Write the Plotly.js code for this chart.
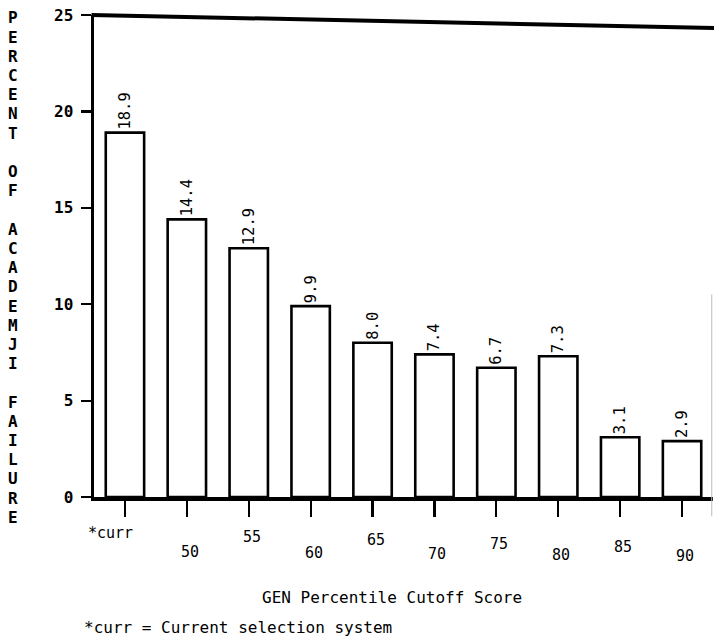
<!DOCTYPE html>
<html>
<head>
<meta charset="utf-8">
<script src="https://cdn.plot.ly/plotly-3.0.1.min.js"></script>
<style>html,body{margin:0;padding:0;background:#fff;}#chart{width:714px;height:643px;}</style>
</head>
<body>
<div id="chart"></div>
<script>
const categories = ['*curr', '50', '55', '60', '65', '70', '75', '80', '85', '90'];
const failurePct = [18.9, 14.4, 12.9, 9.9, 8.0, 7.4, 6.7, 7.3, 3.1, 2.9];
const valueLabels = ['18.9', '14.4', '12.9', '9.9', '8.0', '7.4', '6.7', '7.3', '3.1', '2.9'];
const yTickVals = [0, 5, 10, 15, 20, 25];
const yTitleWords = ['PERCENT', 'OF', 'ACADEMJI', 'FAILURE'];
const xTitle = 'GEN Percentile Cutoff Score';
const footnote = '*curr = Current selection system';

const FONT = 'DejaVu Sans Mono, Liberation Mono, monospace';
const L = 94, W = 619, T = 15, H = 482;

const trace = {
  type: 'bar',
  x: categories,
  y: failurePct,
  text: valueLabels,
  textposition: 'outside',
  textangle: -90,
  cliponaxis: false,
  textfont: {family: FONT, size: 15.5, color: '#000'},
  marker: {color: '#fff', line: {color: '#000', width: 2.6}},
  hoverinfo: 'skip'
};

const annotations = [];
// staggered x tick labels
categories.forEach((c, i) => {
  const lower = i % 2 === 1;
  annotations.push({
    x: i, xref: 'x', y: 0, yref: 'y',
    yanchor: 'middle', xanchor: 'center',
    yshift: lower ? -(54 + i * 0.6) : -(36 + i * 1.8),
    xshift: i === 0 ? -14 : 3,
    text: c, showarrow: false,
    font: {family: FONT, size: 15, color: '#000'}
  });
});
// vertical stacked y-axis title
const letters = [];
yTitleWords.forEach((w, wi) => {
  if (wi > 0) letters.push(' ');
  for (const ch of w) letters.push(ch);
});
const topY = 18, stepY = 19.2;
letters.forEach((ch, i) => {
  if (ch === ' ') return;
  annotations.push({
    x: (13 - L) / W, xref: 'paper', xanchor: 'center',
    y: 1 - ((topY + i * stepY) - T) / H, yref: 'paper', yanchor: 'middle',
    text: ch, showarrow: false,
    font: {family: FONT, size: 16, color: '#000', weight: 'bold'}
  });
});
annotations.push({
  x: (392 - L) / W, xref: 'paper', xanchor: 'center',
  y: 0, yref: 'paper', yanchor: 'middle', yshift: -100,
  text: xTitle, showarrow: false,
  font: {family: FONT, size: 16, color: '#000'}
});
annotations.push({
  x: (82 - L) / W, xref: 'paper', xanchor: 'left',
  y: 0, yref: 'paper', yanchor: 'middle', yshift: -130,
  text: footnote, showarrow: false,
  font: {family: FONT, size: 16, color: '#000'}
});

const layout = {
  width: 714, height: 643,
  margin: {l: L, r: 714 - L - W, t: T, b: 643 - T - H},
  paper_bgcolor: '#fff', plot_bgcolor: '#fff',
  showlegend: false,
  bargap: 0.38,
  xaxis: {
    type: 'category',
    range: [-0.5, 9.5],
    showticklabels: false,
    ticks: 'outside', ticklen: 16, tickwidth: 2.2, tickcolor: '#000',
    showline: true, linecolor: '#000', linewidth: 4,
    showgrid: false, zeroline: false, fixedrange: true
  },
  yaxis: {
    range: [0, 25],
    tickvals: yTickVals,
    ticks: 'outside', ticklen: 10, tickwidth: 2.2, tickcolor: '#000',
    tickfont: {family: FONT, size: 16, color: '#000', weight: 'bold'},
    ticklabelstandoff: 4,
    showline: true, linecolor: '#000', linewidth: 3.5,
    showgrid: false, zeroline: false, fixedrange: true
  },
  shapes: [
    {type: 'line', xref: 'paper', yref: 'paper', x0: -0.004, x1: 1.01, y0: 1, y1: 0.973,
     line: {color: '#000', width: 4}},
    {type: 'line', xref: 'paper', yref: 'paper', x0: 0.998, x1: 0.998, y0: -0.04, y1: 0.42,
     line: {color: '#bbb', width: 1}}
  ],
  annotations: annotations
};

Plotly.newPlot('chart', [trace], layout, {displayModeBar: false, staticPlot: true});
</script>
</body>
</html>
